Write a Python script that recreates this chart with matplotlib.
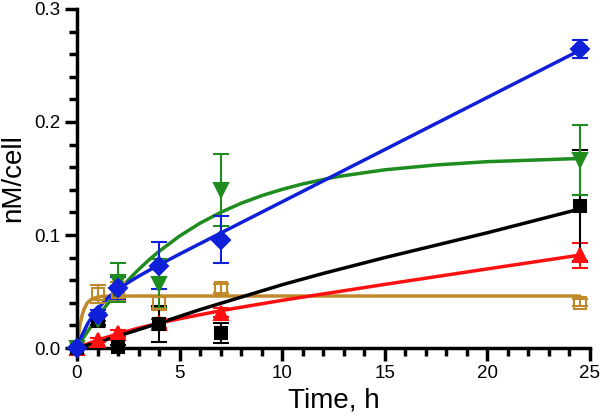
import numpy as np
import matplotlib
matplotlib.use('Agg')
import matplotlib.pyplot as plt
from matplotlib.ticker import MultipleLocator

plt.rcParams['font.family'] = ['Liberation Sans', 'DejaVu Sans']

# measured time points (h)
time = [0, 1, 2, 4, 7, 24.5]

# measured values (nM/cell) and errors
blue_y = [0.0, 0.029, 0.053, 0.073, 0.096, 0.265]
blue_err = [0.0, 0.005, 0.010, 0.021, 0.021, 0.008]
green_y = [0.0, 0.025, 0.058, 0.057, 0.140, 0.166]
green_err = [0.0, 0.006, 0.017, 0.022, 0.032, 0.031]
black_y = [0.0, 0.024, 0.001, 0.021, 0.013, 0.126]
black_err = [0.0, 0.004, 0.002, 0.016, 0.009, 0.049]
red_y = [0.0, 0.007, 0.013, 0.022, 0.031, 0.082]
red_err = [0.0, 0.002, 0.003, 0.004, 0.004, 0.011]
orange_y = [0.0, 0.048, 0.050, 0.040, 0.053, 0.040]
orange_err = [0.0, 0.008, 0.008, 0.006, 0.004, 0.003]

# fitted curves
blue_fit_t = [0, 0.25, 0.5, 0.75, 1, 1.5, 2, 2.5, 3, 3.5, 4, 5, 6, 7, 10,
              15, 20, 24.5]
blue_fit_y = [0, 0.0116, 0.0208, 0.0283, 0.0345, 0.0443, 0.0518, 0.058,
              0.0635, 0.0686, 0.0736, 0.0831, 0.0924, 0.1017, 0.1294,
              0.1756, 0.2218, 0.2634]
green_fit_t = [0, 0.25, 0.5, 1, 1.5, 2, 2.5, 3, 3.5, 4, 5, 6, 7, 8, 9, 10,
               11, 12.5, 13, 15, 17.5, 20, 24.5]
green_fit_y = [0, 0.0073, 0.0142, 0.0273, 0.0393, 0.0502, 0.0602, 0.0694,
               0.0779, 0.0855, 0.0991, 0.1105, 0.120, 0.1281, 0.1348,
               0.1404, 0.1452, 0.151, 0.1525, 0.1577, 0.162, 0.1649, 0.1677]
black_fit_t = [0, 1, 2, 4, 6, 8, 10, 12, 15, 20, 24.5]
black_fit_y = [0, 0.005, 0.0105, 0.022, 0.034, 0.045, 0.056, 0.066, 0.080,
               0.102, 0.123]
red_fit_t = [0, 0.5, 1, 2, 3, 4, 5, 7, 10, 15, 20, 24.5]
red_fit_y = [0, 0.0036, 0.0069, 0.0126, 0.0176, 0.022, 0.0259, 0.033,
             0.0422, 0.0563, 0.070, 0.0822]
orange_fit_t = [0, 0.05, 0.1, 0.15, 0.25, 0.35, 0.5, 0.75, 1, 1.25, 1.5, 2,
                24.5]
orange_fit_y = [0, 0.0083, 0.015, 0.0208, 0.029, 0.0346, 0.040, 0.0437,
                0.045, 0.0457, 0.0459, 0.046, 0.046]

BLUE = '#1020D8'
GREEN = '#1E8C1E'
BLACK = '#000000'
RED = '#FF1010'
ORANGE = '#C08A2C'

fig = plt.figure(figsize=(6.0, 4.19), dpi=100)
ax = fig.add_axes([77 / 600, 71 / 419, 513 / 600, 339 / 419])

series = [
    (orange_fit_t, orange_fit_y, orange_y, orange_err, ORANGE, 's', 9, 'none'),
    (red_fit_t, red_fit_y, red_y, red_err, RED, '^', 10, RED),
    (black_fit_t, black_fit_y, black_y, black_err, BLACK, 's', 9, BLACK),
    (green_fit_t, green_fit_y, green_y, green_err, GREEN, 'v', 10, GREEN),
    (blue_fit_t, blue_fit_y, blue_y, blue_err, BLUE, 'D', 9, BLUE),
]

for ft, fy, y, err, col, mk, ms, face in series:
    ax.plot(ft, fy, color=col, lw=2.5, solid_joinstyle='round',
            solid_capstyle='round', zorder=2)
    ax.errorbar(time, y, yerr=err, fmt='none', ecolor=col, elinewidth=1.5,
                capsize=6, capthick=1.5, zorder=3)
    ax.plot(time, y, linestyle='none', marker=mk, markersize=ms,
            markerfacecolor=face, markeredgecolor=col, markeredgewidth=1.5,
            zorder=4)

ax.set_xlim(0, 25)
ax.set_ylim(0, 0.3)
ax.xaxis.set_major_locator(MultipleLocator(5))
ax.xaxis.set_minor_locator(MultipleLocator(1))
ax.yaxis.set_major_locator(MultipleLocator(0.1))
ax.yaxis.set_minor_locator(MultipleLocator(0.02))
ax.yaxis.set_major_formatter(matplotlib.ticker.FormatStrFormatter('%.1f'))

for side in ['top', 'right']:
    ax.spines[side].set_visible(False)
for side in ['left', 'bottom']:
    ax.spines[side].set_linewidth(2.5)

ax.tick_params(which='major', direction='out', length=9, width=2.5,
               labelsize=13.5, pad=3)
ax.tick_params(which='minor', direction='out', length=6, width=2.5)

ax.set_xlabel('Time, h', fontsize=20, labelpad=4)
ax.set_ylabel('nM/cell', fontsize=20, labelpad=6)

for m in ax.get_children():
    try:
        m.set_clip_on(False)
    except Exception:
        pass

fig.savefig('out.png', dpi=100)
